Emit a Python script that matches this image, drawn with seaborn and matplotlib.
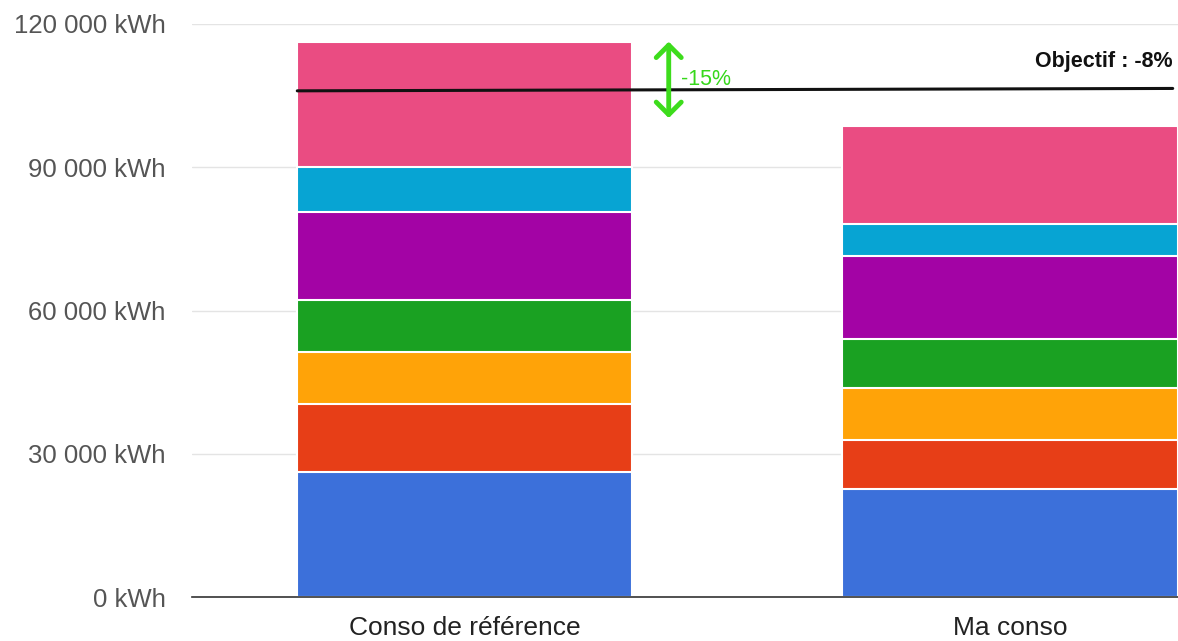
"""Stacked energy consumption: reference vs current, with -8% objective."""

import matplotlib
matplotlib.use("Agg")
import matplotlib.pyplot as plt
import numpy as np
import pandas as pd
import seaborn as sns

categories = ["Conso de référence", "Ma conso"]
# segments from bottom to top (kWh)
ref_segments = [26200, 14200, 11000, 10900, 18300, 9500, 26100]
my_segments = [22600, 10300, 10800, 10400, 17400, 6600, 20600]
colors = ["#3c70da", "#e73e17", "#ffa308", "#1aa122", "#a303a5", "#07a4d3", "#ea4c82"]
yticks = [0, 30000, 60000, 90000, 120000]
ytick_labels = ["0 kWh", "30 000 kWh", "60 000 kWh", "90 000 kWh", "120 000 kWh"]

objective_x = [-0.307, 1.298]
objective_y = [106000, 106500]
arrow_x = 0.374
arrow_y = [116300, 100300]
gap_label = "-15%"
objective_label = "Objectif : -8%"

sns.set_theme(style="white")
plt.rcParams["font.family"] = ["Liberation Sans", "DejaVu Sans"]

fig = plt.figure(figsize=(11.78, 6.41), dpi=100)
ax = fig.add_axes([0.163, 0.0686, 0.837, 0.894])

ref_tops = np.cumsum(ref_segments)
my_tops = np.cumsum(my_segments)

# draw tallest cumulative first so lower segments overlap it
for i in reversed(range(len(colors))):
    df = pd.DataFrame({"cat": categories, "val": [ref_tops[i], my_tops[i]]})
    sns.barplot(data=df, x="cat", y="val", color=colors[i], width=0.615,
                edgecolor="white", linewidth=1.5, saturation=1, ax=ax)

ax.plot(objective_x, objective_y, color="#111111", lw=2.2, zorder=5)
ax.text(1.2985, 112200, objective_label, ha="right", va="center",
        fontsize=15.5, fontweight="bold", color="#111111")

ax.annotate("", xy=(arrow_x, arrow_y[1]), xytext=(arrow_x, arrow_y[0]),
            arrowprops=dict(arrowstyle="<->,head_width=0.45,head_length=0.45",
                            mutation_scale=20, color="#3ddc1c", lw=3.5,
                            shrinkA=0, shrinkB=0, capstyle="round",
                            joinstyle="round"),
            zorder=6)
ax.text(0.396, 108400, gap_label, ha="left", va="center",
        fontsize=15.5, color="#36d81a")

ax.set_ylim(0, 120000)
ax.set_xlim(-0.5, 1.3077)
ax.set_yticks(yticks)
ax.set_yticklabels(ytick_labels)
ax.yaxis.grid(True, color="#e4e4e4", lw=1)
ax.set_axisbelow(True)
ax.set_xlabel("")
ax.set_ylabel("")
for side in ["top", "right", "left"]:
    ax.spines[side].set_visible(False)
ax.spines["bottom"].set_color("#333333")
ax.spines["bottom"].set_linewidth(1.2)
ax.tick_params(axis="y", length=0, pad=19, labelsize=18.5, labelcolor="#555555")
ax.tick_params(axis="x", length=0, pad=14, labelsize=19, labelcolor="#222222")

fig.savefig("out.png", dpi=100)
